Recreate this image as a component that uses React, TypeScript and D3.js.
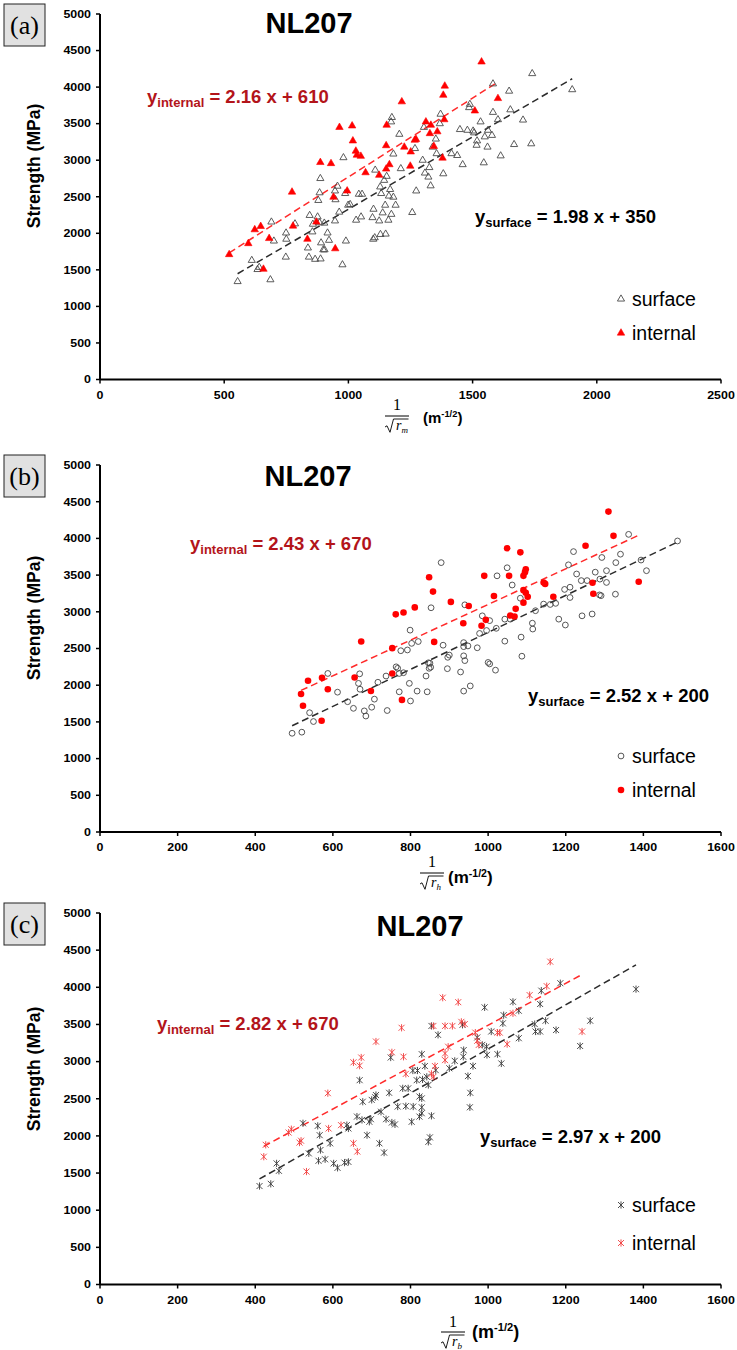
import React from "react";
import * as d3 from "d3";

type Pt = [number, number];

// ---------------- data ----------------
const yTickValues = [0, 500, 1000, 1500, 2000, 2500, 3000, 3500, 4000, 4500, 5000];
const xTickValuesA = [0, 500, 1000, 1500, 2000, 2500];
const xTickValuesBC = [0, 200, 400, 600, 800, 1000, 1200, 1400, 1600];
const seriesNames = ["surface", "internal"];
const panelTitles = ["NL207", "NL207", "NL207"];
const panelLetters = ["(a)", "(b)", "(c)"];
const radiusSubscripts = ["m", "h", "b"];
const fitSlopes = [[1.98, 2.16], [2.52, 2.43], [2.97, 2.82]];
const fitIntercepts = [[350, 610], [200, 670], [200, 670]];

const aSurface: Pt[] = [
  [1175,3585],[1172,3525],[1205,3355],[980,3035],[1181,3085],[1268,3160],[1108,2865],[1144,2725],[1154,2780],[1211,2885],
  [887,2750],[956,2645],[946,2580],[884,2555],[879,2450],[987,2545],[1042,2535],[1055,2535],[1132,2545],[1128,2635],
  [1168,2600],[1163,2510],[1181,2495],[948,2460],[999,2385],[1007,2395],[1190,2385],[1148,2385],[963,2290],[1101,2330],
  [1138,2280],[1173,2260],[1031,2180],[1051,2225],[1097,2215],[1124,2170],[1161,2180],[844,2245],[876,2225],[884,2145],
  [857,2125],[903,2140],[946,2170],[749,2005],[785,2130],[700,1895],[750,1920],[855,2020],[916,2005],[890,1870],
  [922,1905],[899,1775],[904,1775],[990,1895],[1100,1920],[1106,1940],[1129,1985],[1150,1990],[837,1800],[841,1675],
  [866,1645],[888,1650],[748,1675],[690,2155],[611,1630],[634,1505],[641,1535],[976,1570],[554,1340],[686,1365],
  [1257,2285],[1273,2580],
  [1740,4185],[1582,4045],[1647,3945],[1901,3965],[1489,3765],[1486,3720],[1582,3655],[1652,3690],[1371,3630],[1532,3525],
  [1602,3555],[1703,3550],[1368,3500],[1304,3450],[1449,3420],[1479,3410],[1502,3400],[1562,3410],[1506,3375],[1578,3340],
  [1549,3320],[1352,3290],[1518,3265],[1516,3205],[1560,3180],[1667,3215],[1736,3225],[1339,3180],[1355,3090],[1415,3090],
  [1438,3065],[1613,3060],[1460,2940],[1545,2965],[1299,3000],[1326,2900],[1308,2825],[1322,2770],[1382,2815],[1331,2650],
];
const aInternal: Pt[] = [
  [1215,3800],[964,3450],[1015,3470],[1154,3480],[1018,3265],[1030,3125],[1034,3070],[1050,3055],[1152,3200],[1225,3180],
  [1251,3115],[1267,3275],[1272,3285],[1312,3525],[887,2970],[930,2955],[1069,2830],[1124,2795],[1152,2880],[1165,2940],
  [1249,2920],[773,2565],[940,2495],[995,2580],[871,2155],[777,2100],[623,2050],[647,2095],[597,1860],[681,1930],
  [835,1920],[947,1790],[520,1710],[658,1510],
  [1536,4345],[1388,4015],[1382,3890],[1602,3845],[1509,3675],[1332,3480],[1386,3555],[1328,3365],[1358,3390],[1344,3190],
  [1379,3030],
];

const bSurface: Pt[] = [
  [799,2750],[775,2470],[792,2480],[803,2570],[820,2595],[846,2305],[848,2230],[587,2160],[669,2155],[666,2025],
  [670,1945],[612,1905],[716,2040],[763,2250],[767,2230],[771,2160],[782,2170],[737,2125],[840,2125],[797,2025],
  [771,1910],[817,1920],[843,1910],[800,1785],[638,1775],[653,1685],[681,1650],[685,1580],[700,1700],[707,1810],
  [740,1655],[540,1625],[550,1505],[495,1345],[520,1360],
  [1362,4055],[1488,3965],[1220,3820],[1293,3740],[1341,3785],[879,3670],[1394,3705],[1207,3640],[1329,3670],[1305,3560],
  [1276,3540],[1408,3560],[1049,3600],[1023,3490],[1228,3515],[1240,3425],[1255,3425],[1288,3445],[1305,3400],[1062,3365],
  [1197,3305],[1211,3335],[1211,3195],[1287,3230],[1291,3220],[1328,3240],[940,3095],[853,3055],[985,2945],[1004,2880],
  [1043,2900],[1057,2900],[1083,3185],[1143,3105],[1160,3100],[1174,3115],[1122,3015],[1182,2900],[1199,2820],[1242,2945],
  [1268,2970],[1114,2845],[1115,2765],[1021,2775],[996,2745],[978,2705],[884,2545],[937,2580],[937,2525],[948,2535],
  [972,2510],[1043,2600],[1085,2655],[900,2410],[896,2380],[937,2400],[940,2335],[852,2245],[850,2300],[895,2225],
  [929,2180],[1000,2310],[1004,2290],[1019,2205],[1087,2395],[937,1920],[954,1990],
];
const bInternal: Pt[] = [
  [848,3470],[762,2965],[782,2990],[811,3060],[673,2595],[753,2505],[536,2060],[572,2100],[656,2105],[753,2160],
  [518,1880],[587,1945],[698,1920],[523,1720],[778,1800],[571,1515],
  [1310,4365],[1323,4035],[1251,3900],[1049,3865],[1083,3810],[1097,3580],[1095,3540],[1091,3490],[1054,3490],[990,3490],
  [1143,3400],[1147,3380],[1388,3410],[1269,3395],[1271,3245],[858,3275],[1091,3295],[1097,3260],[1102,3205],[1091,3125],
  [1015,3215],[1168,3205],[904,3135],[950,3080],[1071,3040],[1057,2950],[1068,2935],[994,2890],[936,2845],[983,2810],
  [861,2590],
];

const cSurface: Pt[] = [
  [829,3100],[669,2750],[749,3055],[806,2880],[818,2880],[831,2760],[780,2640],[794,2640],[711,2550],[709,2520],
  [823,2530],[829,2505],[677,2460],[700,2485],[745,2580],[767,2395],[788,2400],[807,2395],[829,2385],[662,2260],
  [675,2215],[694,2190],[698,2225],[724,2325],[737,2225],[752,2180],[760,2155],[803,2190],[823,2260],[829,2305],
  [523,2170],[561,2135],[566,2010],[636,2145],[640,2100],[688,2010],[720,1900],[732,1775],[593,1900],[568,1810],
  [538,1765],[455,1630],[461,1530],[563,1665],[580,1685],[602,1630],[630,1640],[640,1650],[612,1570],[846,1920],
  [411,1325],[440,1355],
  [1381,3975],[1186,4055],[1137,3955],[1134,3775],[1064,3805],[1079,3685],[991,3730],[1040,3625],[1038,3515],[1120,3505],
  [1148,3550],[1122,3405],[1134,3405],[1175,3425],[1263,3550],[1079,3315],[1008,3405],[1237,3210],[854,3480],[871,3360],
  [934,3495],[996,3200],[997,3090],[1024,3100],[1034,2975],[985,3225],[972,3325],[937,3155],[936,3065],[914,3010],
  [900,2910],[961,2940],[837,2940],[865,2885],[842,2795],[816,2750],[948,2805],[846,2685],[954,2580],[953,2385],
  [854,2270],[850,1980],
];
const cInternal: Pt[] = [
  [777,3455],[711,3270],[752,3125],[782,3065],[653,2990],[673,3055],[669,2945],[788,2835],[587,2575],[493,2090],
  [486,2045],[589,2100],[621,2145],[518,1935],[514,1910],[427,1880],[422,1720],[653,1900],[663,1790],[532,1520],
  [1160,4345],[1151,4015],[1107,3895],[883,3860],[923,3800],[1064,3650],[859,3480],[889,3480],[908,3480],[931,3535],
  [940,3505],[1024,3390],[1030,3390],[967,3390],[1049,3235],[972,3280],[976,3225],[1242,3405],[897,3200],[889,3110],
  [889,3020],[863,2940],[859,2795],[854,2835],
];

const panelData: Pt[][][] = [
  [aSurface, aInternal],
  [bSurface, bInternal],
  [cSurface, cInternal],
];
const panelXTicks = [xTickValuesA, xTickValuesBC, xTickValuesBC];

// ---------------- layout / style ----------------
const SANS = "'Liberation Sans', Arial, Helvetica, sans-serif";
const SERIF = "'Liberation Serif', 'Times New Roman', serif";
const RED = "#ff0000";
const DARKRED = "#b3141a";

type Layout = {
  yTop: number; yBottom: number; box: [number, number]; title: [number, number];
  eqSurf: [number, number]; eqInt: [number, number]; legend: [number, number];
  frac: { cx: number; one: number; bar: number; unitsX: number; unitsY: number; unitsSize: number };
  ylab: number; marker: "tri" | "circle" | "star";
};

const layouts: Layout[] = [
  { yTop: 14, yBottom: 379.5, box: [4, 4], title: [309, 33], eqInt: [147, 103], eqSurf: [475, 223], legend: [299, 333],
    frac: { cx: 397, one: 410, bar: 416, unitsX: 423, unitsY: 423, unitsSize: 15 }, ylab: 166, marker: "tri" },
  { yTop: 465, yBottom: 832, box: [4, 455], title: [308, 486], eqInt: [190, 550], eqSurf: [528, 702], legend: [756, 790],
    frac: { cx: 432, one: 867, bar: 873, unitsX: 448, unitsY: 883, unitsSize: 17 }, ylab: 618, marker: "circle" },
  { yTop: 913, yBottom: 1284.5, box: [4, 903], title: [420, 936], eqInt: [157, 1030], eqSurf: [480, 1143], legend: [1205, 1243],
    frac: { cx: 453, one: 1327, bar: 1332, unitsX: 472, unitsY: 1338, unitsSize: 18 }, ylab: 1069, marker: "star" },
];

const X0 = 100;
const X1 = 721;

function Marker({ kind, series, x, y }: { kind: string; series: number; x: number; y: number }) {
  const isInt = series === 1;
  if (kind === "tri") {
    const p = d3.symbol().type(d3.symbolTriangle).size(isInt ? 24 : 22)()!;
    return (
      <path d={p} transform={`translate(${x},${y})`}
        fill={isInt ? RED : "none"} stroke={isInt ? RED : "#4a4a4a"} strokeWidth={isInt ? 0.6 : 0.9} />
    );
  }
  if (kind === "circle") {
    return isInt ? <circle cx={x} cy={y} r={3.3} fill={RED} /> :
      <circle cx={x} cy={y} r={2.9} fill="none" stroke="#444" strokeWidth={0.9} />;
  }
  const s = 3;
  const d = `M${-s},${-s}L${s},${s}M${-s},${s}L${s},${-s}M0,${-s - 0.6}L0,${s + 0.6}`;
  return <path d={d} transform={`translate(${x},${y})`} stroke={isInt ? "#f03c3c" : "#3a3a3a"} strokeWidth={0.9} fill="none" />;
}

function TickText({ x, y, anchor, v }: { x: number; y: number; anchor: "end" | "middle"; v: number }) {
  const s = String(v);
  return (
    <text x={x} y={y} textAnchor={anchor} fontFamily={SANS} fontWeight="bold" fontSize={10.5}
      textLength={s.length * 6.9} lengthAdjust="spacingAndGlyphs">{s}</text>
  );
}

function Panel({ idx }: { idx: number }) {
  const L = layouts[idx];
  const xTicks = panelXTicks[idx];
  const xMax = xTicks[xTicks.length - 1];
  const x = d3.scaleLinear().domain([0, xMax]).range([X0, X1]);
  const y = d3.scaleLinear().domain([0, 5000]).range([L.yBottom, L.yTop]);
  const data = panelData[idx];
  const lineColors = ["#2b2b2b", "#ff2a2a"];
  const fr = L.frac;
  return (
    <g>
      {/* letter box */}
      <rect x={L.box[0]} y={L.box[1]} width={41} height={42} fill="#e1e1e1" stroke="#222" strokeWidth={1} />
      <text x={L.box[0] + 20.5} y={L.box[1] + 30} textAnchor="middle" fontFamily={SERIF} fontSize={26}>{panelLetters[idx]}</text>

      {/* y axis */}
      <line x1={X0} x2={X0} y1={L.yTop} y2={L.yBottom} stroke="#000" strokeWidth={2} />
      {yTickValues.map((v) => (
        <g key={v}>
          <line x1={X0 - 4} x2={X0} y1={y(v)} y2={y(v)} stroke="#000" strokeWidth={1.5} />
          <TickText x={91} y={y(v) + 3.8} anchor="end" v={v} />
        </g>
      ))}
      {/* x axis */}
      <line x1={X0} x2={X1} y1={L.yBottom} y2={L.yBottom} stroke="#000" strokeWidth={2} />
      {xTicks.map((v) => (
        <g key={v}>
          <line x1={x(v)} x2={x(v)} y1={L.yBottom} y2={L.yBottom + 4} stroke="#000" strokeWidth={1.5} />
          <TickText x={x(v)} y={L.yBottom + 19} anchor="middle" v={v} />
        </g>
      ))}

      {/* y label */}
      <text transform={`translate(40,${L.ylab}) rotate(-90)`} textAnchor="middle" fontFamily={SANS} fontWeight="bold" fontSize={17.5}>
        Strength (MPa)
      </text>

      {/* x label: 1/sqrt(r) (m^-1/2) */}
      <text x={fr.cx} y={fr.one} textAnchor="middle" fontFamily={SERIF} fontSize={16}>1</text>
      <line x1={fr.cx - 12} x2={fr.cx + 12} y1={fr.bar} y2={fr.bar} stroke="#000" strokeWidth={1} />
      <path d={`M${fr.cx - 12},${fr.bar + 11} l2,-1.2 l3,6.5 l3.5,-13.3 h15`} fill="none" stroke="#000" strokeWidth={0.9} />
      <text x={fr.cx - 1} y={fr.bar + 14} fontFamily={SERIF} fontStyle="italic" fontSize={14}>
        r<tspan fontSize={9} dy={2.5}>{radiusSubscripts[idx]}</tspan>
      </text>
      <text x={fr.unitsX} y={fr.unitsY} fontFamily={SANS} fontWeight="bold" fontSize={fr.unitsSize}>
        (m<tspan fontSize={fr.unitsSize * 0.62} dy={-fr.unitsSize * 0.38}>-1/2</tspan>
        <tspan dy={fr.unitsSize * 0.38}>)</tspan>
      </text>

      {/* title */}
      <text x={L.title[0]} y={L.title[1]} textAnchor="middle" fontFamily={SANS} fontWeight="bold" fontSize={29}>{panelTitles[idx]}</text>

      {/* fit lines */}
      {data.map((pts, s) => {
        const [mn, mx] = d3.extent(pts, (p) => p[0]) as [number, number];
        const f = (v: number) => fitSlopes[idx][s] * v + fitIntercepts[idx][s];
        const line = d3.line<number>().x((v) => x(v)).y((v) => y(f(v)));
        return <path key={s} d={line([mn, mx])!} stroke={lineColors[s]} strokeWidth={1.5} strokeDasharray="7,4" fill="none" />;
      })}

      {/* points */}
      {data.map((pts, s) => (
        <g key={s}>
          {pts.map((p, i) => <Marker key={i} kind={L.marker} series={s} x={x(p[0])} y={y(p[1])} />)}
        </g>
      ))}

      {/* equations */}
      {[0, 1].map((s) => {
        const pos = s === 0 ? L.eqSurf : L.eqInt;
        return (
          <text key={s} x={pos[0]} y={pos[1]} fontFamily={SANS} fontWeight="bold" fontSize={18.5} fill={s === 0 ? "#000" : DARKRED}>
            y<tspan fontSize={13} dy={3.5}>{seriesNames[s]}</tspan>
            <tspan dy={-3.5}>{` = ${fitSlopes[idx][s].toFixed(2)} x + ${fitIntercepts[idx][s]}`}</tspan>
          </text>
        );
      })}

      {/* legend */}
      {[0, 1].map((s) => (
        <g key={s}>
          <Marker kind={L.marker} series={s} x={621} y={L.legend[s]} />
          <text x={632} y={L.legend[s] + 7} fontFamily={SANS} fontSize={19.5}>{seriesNames[s]}</text>
        </g>
      ))}
    </g>
  );
}

export default function App() {
  return (
    <div style={{ position: "absolute", left: 0, top: 0 }}>
      <svg width={737} height={1350} viewBox="0 0 737 1350" style={{ display: "block", background: "#fff" }}>
        <rect x={0} y={0} width={737} height={1350} fill="#fff" />
        {[0, 1, 2].map((i) => <Panel key={i} idx={i} />)}
      </svg>
    </div>
  );
}
